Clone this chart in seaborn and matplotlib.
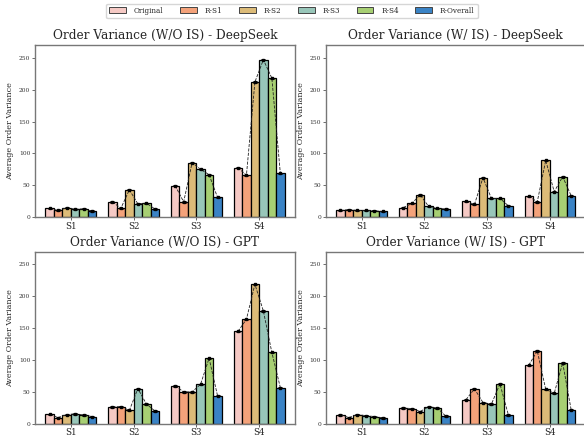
import numpy as np
import pandas as pd
import matplotlib
matplotlib.use("Agg")
import matplotlib.pyplot as plt
import seaborn as sns
from matplotlib.patches import Patch

scenarios = ["S1", "S2", "S3", "S4"]
methods = ["Original", "R-S1", "R-S2", "R-S3", "R-S4", "R-Overall"]
colors = ["#f5c9c4", "#f4a27a", "#dcbb78", "#98c6b9", "#a7cf73", "#3a83c5"]

# values[method][scenario]
ds_wo = {
    "Original":  [13.7, 24.0, 49.4, 77.7],
    "R-S1":      [10.5, 14.0, 24.0, 65.7],
    "R-S2":      [14.7, 43.0, 85.6, 212.0],
    "R-S3":      [12.6, 21.0, 75.0, 247.0],
    "R-S4":      [13.1, 22.0, 66.7, 218.0],
    "R-Overall": [9.5, 13.0, 31.0, 68.8],
}
ds_w = {
    "Original":  [10.5, 15.0, 24.7, 33.0],
    "R-S1":      [12.0, 21.5, 20.0, 24.0],
    "R-S2":      [10.5, 35.0, 62.0, 89.0],
    "R-S3":      [10.5, 16.8, 29.4, 40.0],
    "R-S4":      [10.0, 13.7, 29.4, 63.5],
    "R-Overall": [9.0, 13.0, 17.9, 33.6],
}
gpt_wo = {
    "Original":  [15.0, 26.7, 59.6, 145.0],
    "R-S1":      [10.0, 27.2, 50.2, 164.0],
    "R-S2":      [14.6, 21.0, 50.2, 219.0],
    "R-S3":      [15.7, 55.4, 62.2, 177.0],
    "R-S4":      [14.0, 31.4, 103.0, 112.0],
    "R-Overall": [11.5, 20.4, 44.0, 57.0],
}
gpt_w = {
    "Original":  [14.0, 25.0, 38.0, 92.0],
    "R-S1":      [10.0, 24.0, 55.0, 114.5],
    "R-S2":      [14.6, 19.4, 33.5, 54.0],
    "R-S3":      [13.0, 27.0, 31.0, 48.0],
    "R-S4":      [11.5, 25.0, 62.8, 95.7],
    "R-Overall": [9.4, 12.5, 14.0, 22.0],
}
titles = ["Order Variance (W/O IS) - DeepSeek", "Order Variance (W/ IS) - DeepSeek",
          "Order Variance (W/O IS) - GPT", "Order Variance (W/ IS) - GPT"]
datasets = [ds_wo, ds_w, gpt_wo, gpt_w]
err = 1.0

sns.set_theme(style="white")
plt.rcParams["font.family"] = ["DejaVu Serif"]

fig = plt.figure(figsize=(5.84, 4.37), dpi=100)
positions = [
    [0.060, 0.503, 0.445, 0.394],
    [0.558, 0.503, 0.445, 0.394],
    [0.060, 0.030, 0.445, 0.394],
    [0.558, 0.030, 0.445, 0.394],
]

for pos, data, title in zip(positions, datasets, titles):
    ax = fig.add_axes(pos)
    rows = []
    for m in methods:
        for s, v in zip(scenarios, data[m]):
            rows.append({"Scenario": s, "Method": m, "Value": v})
    df = pd.DataFrame(rows)
    sns.barplot(data=df, x="Scenario", y="Value", hue="Method", hue_order=methods,
                order=scenarios, palette=colors, edgecolor="black", linewidth=0.9,
                width=0.81, ax=ax, legend=False, errorbar=None, saturation=1)
    centers = {}
    for m, cont in zip(methods, ax.containers):
        centers[m] = [p.get_x() + p.get_width() / 2 for p in cont.patches]
    for j, s in enumerate(scenarios):
        xs = [centers[m][j] for m in methods]
        ys = [data[m][j] for m in methods]
        ax.plot(xs, ys, linestyle="--", color="#222222", linewidth=0.6, zorder=4)
        ax.errorbar(xs, ys, yerr=err, fmt="s", color="black", markersize=1.5,
                    elinewidth=0.7, capsize=1.4, capthick=0.7, zorder=5)
    ax.set_ylim(0, 270)
    ax.set_xlim(-0.57, 3.57)
    ax.set_yticks([0, 50, 100, 150, 200, 250])
    ax.tick_params(axis="y", labelsize=4.3, length=2, width=0.5, pad=1.5, colors="#333333", left=True)
    ax.tick_params(axis="x", labelsize=6.2, length=2, width=0.5, pad=1.2, bottom=True)
    ax.set_xlabel("")
    ax.set_ylabel("Average Order Variance", fontsize=5.8, labelpad=3)
    ax.set_title(title, fontsize=8.7, pad=4)
    for sp in ax.spines.values():
        sp.set_color("#777777")
        sp.set_linewidth(1.0)

handles = [Patch(facecolor=c, edgecolor="#444444", linewidth=0.7, label=m) for m, c in zip(methods, colors)]
fig.legend(handles=handles, loc="upper center", ncol=6, fontsize=5.2, frameon=True,
           bbox_to_anchor=(0.5, 1.0), handlelength=2.3, handleheight=0.9, columnspacing=2.3,
           handletextpad=1.1, borderpad=0.45, edgecolor="#cccccc", fancybox=True)

fig.savefig("out.png", dpi=100)
